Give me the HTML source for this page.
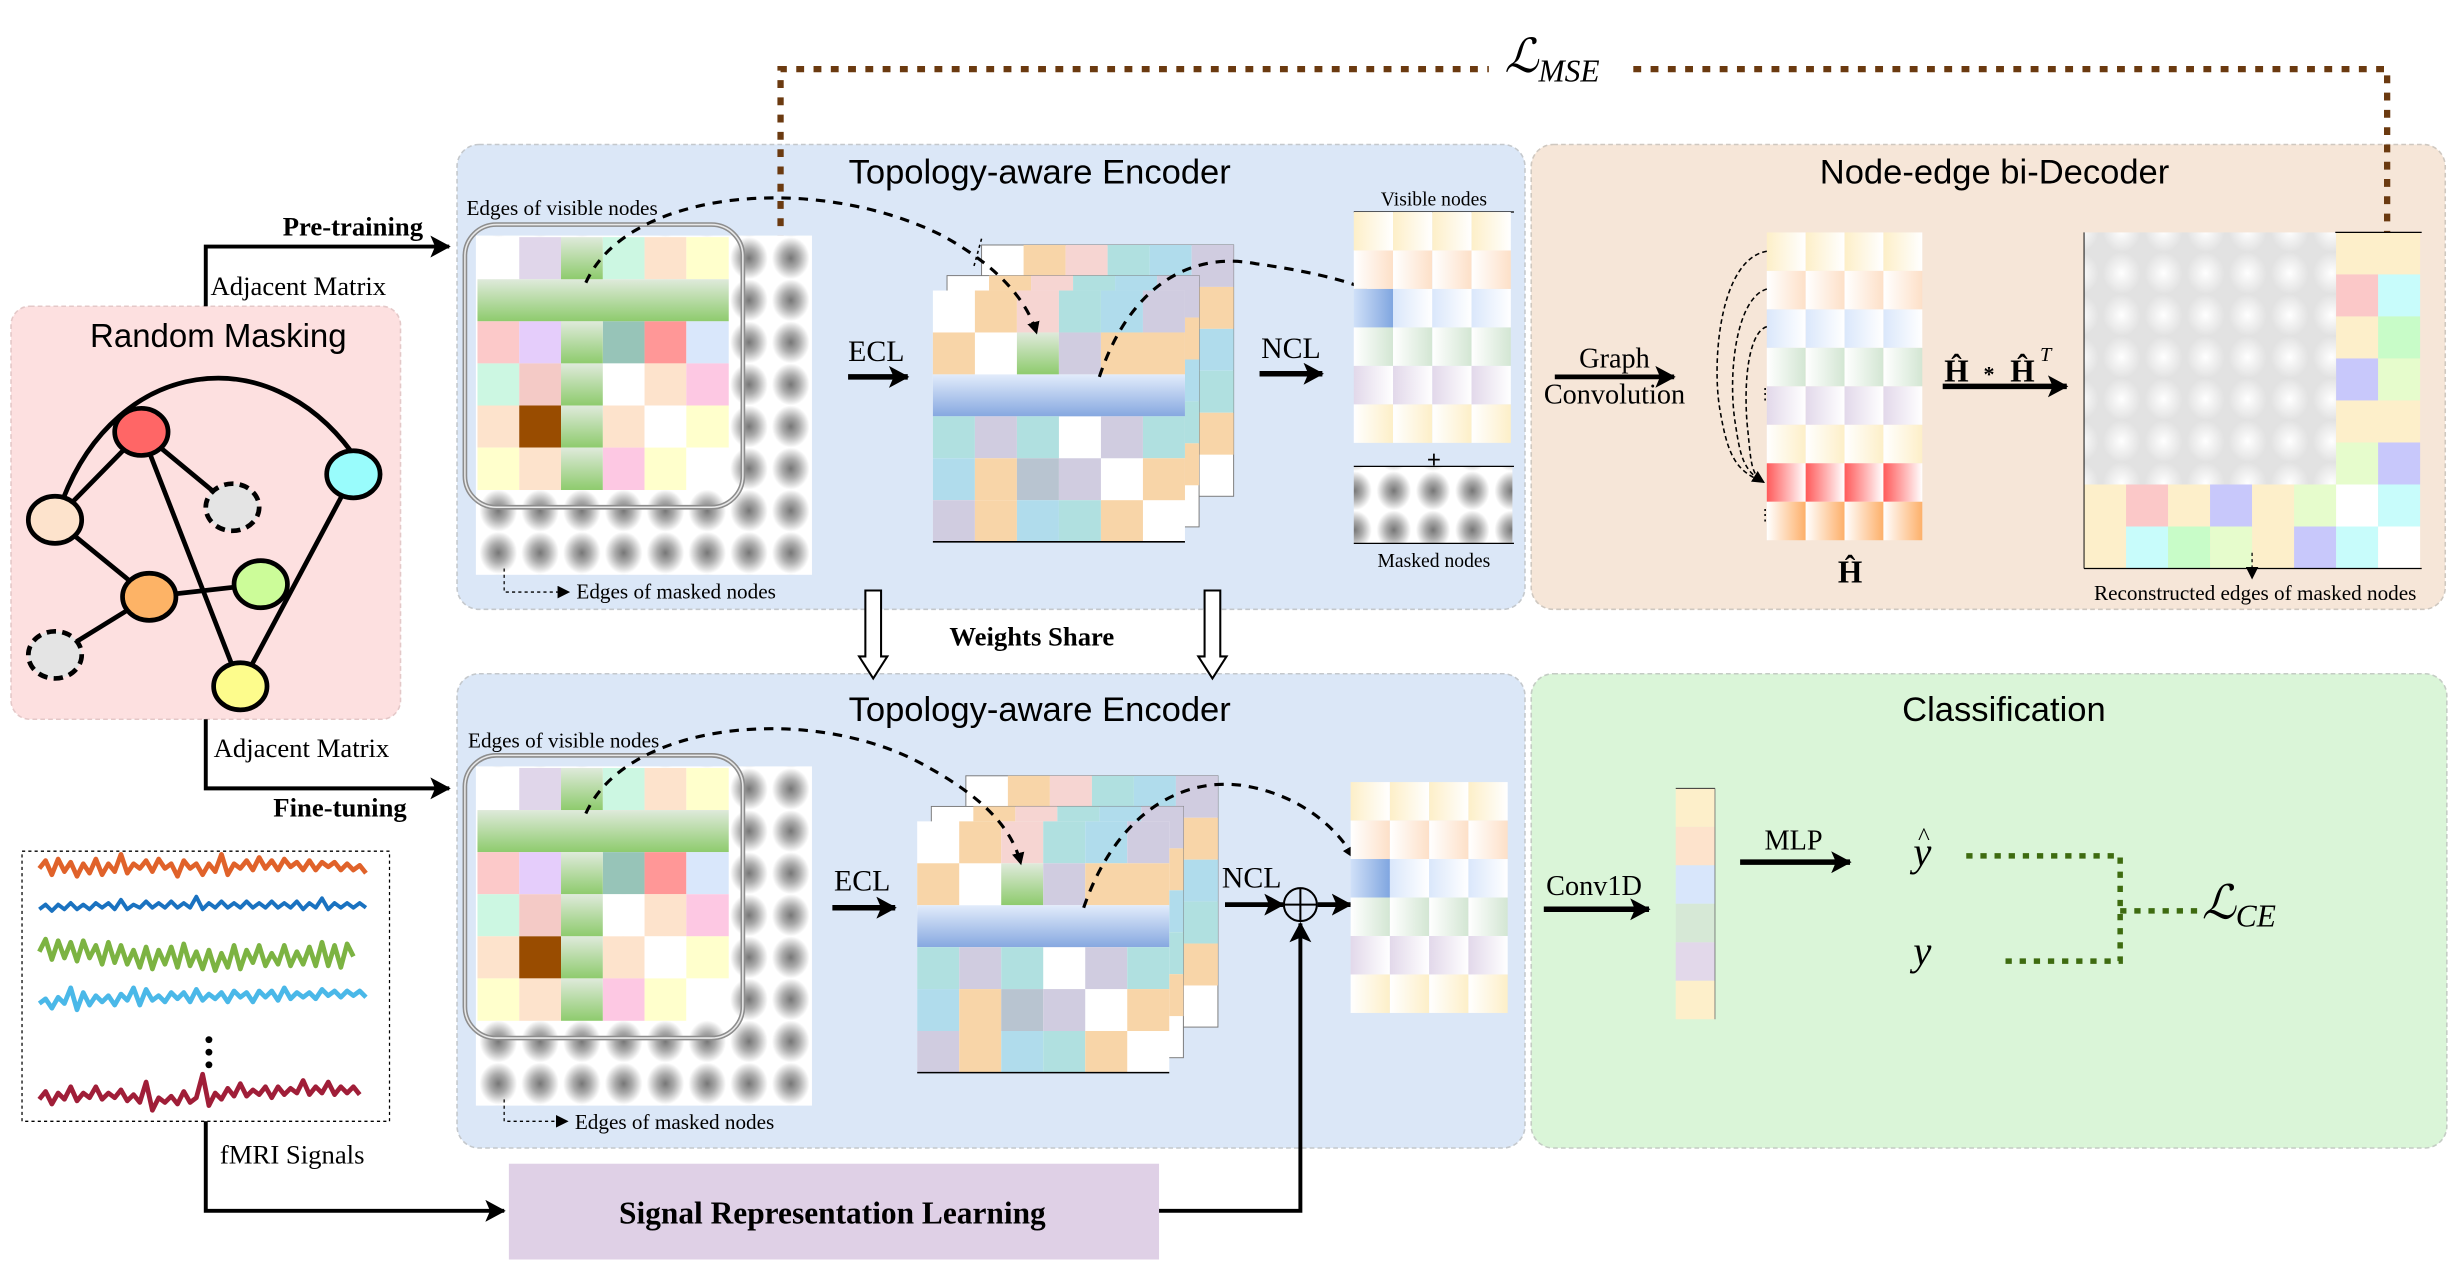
<!DOCTYPE html>
<html><head><meta charset="utf-8"><style>
html,body{margin:0;padding:0;background:#fff;}
svg{display:block;}
.ser{font-family:"Liberation Serif",serif;}
.san{font-family:"Liberation Sans",sans-serif;}
</style></head><body>
<svg width="2450" height="1276" viewBox="0 0 1560 812.5" xmlns="http://www.w3.org/2000/svg">
<defs>
 <radialGradient id="gb" cx="0.5" cy="0.5" r="0.5"><stop offset="0" stop-color="#777"/><stop offset="0.45" stop-color="#aaa"/><stop offset="1" stop-color="#fff"/></radialGradient>
 <radialGradient id="wb" cx="0.5" cy="0.5" r="0.5"><stop offset="0" stop-color="#fff"/><stop offset="0.5" stop-color="#f0f0f0"/><stop offset="1" stop-color="#e2e2e2"/></radialGradient>
 <pattern id="gdots" x="0" y="0" width="26.6" height="26.8" patternUnits="userSpaceOnUse"><rect width="26.6" height="26.8" fill="#fff"/><ellipse cx="13.3" cy="13.4" rx="12" ry="13.4" fill="url(#gb)"/></pattern>
 <pattern id="mdots" x="0" y="0" width="25" height="25" patternUnits="userSpaceOnUse"><rect width="25" height="25" fill="#fff"/><ellipse cx="12.5" cy="12.5" rx="11" ry="12.5" fill="url(#gb)"/></pattern>
 <pattern id="wdots" x="0" y="0" width="26.75" height="26.75" patternUnits="userSpaceOnUse"><rect width="26.75" height="26.75" fill="#e2e2e2"/><ellipse cx="13.4" cy="13.4" rx="12" ry="13.4" fill="url(#wb)"/></pattern>
 <linearGradient id="gg" x1="0" y1="0" x2="0" y2="1"><stop offset="0" stop-color="#dfeadb"/><stop offset="1" stop-color="#8ecb6d"/></linearGradient>
 <linearGradient id="bg" x1="0" y1="0" x2="0" y2="1"><stop offset="0" stop-color="#e2ecfb"/><stop offset="1" stop-color="#86a8e0"/></linearGradient>
 <linearGradient id="cy" x1="0" x2="1"><stop offset="0" stop-color="#fdefc8"/><stop offset="1" stop-color="#fff"/></linearGradient>
 <linearGradient id="cp" x1="0" x2="1"><stop offset="0" stop-color="#fff"/><stop offset="1" stop-color="#fde0c8"/></linearGradient>
 <linearGradient id="cb" x1="0" x2="1"><stop offset="0" stop-color="#dae7fb"/><stop offset="1" stop-color="#fff"/></linearGradient>
 <linearGradient id="cbs" x1="0" x2="1"><stop offset="0" stop-color="#d0e0f8"/><stop offset="1" stop-color="#80a6e0"/></linearGradient>
 <linearGradient id="cg" x1="0" x2="1"><stop offset="0" stop-color="#fff"/><stop offset="1" stop-color="#d3e6d3"/></linearGradient>
 <linearGradient id="cl" x1="0" x2="1"><stop offset="0" stop-color="#e2d8ea"/><stop offset="1" stop-color="#fff"/></linearGradient>
 <linearGradient id="cy2" x1="0" x2="1"><stop offset="0" stop-color="#fff"/><stop offset="1" stop-color="#fdefc8"/></linearGradient>
 <linearGradient id="cr" x1="0" x2="1"><stop offset="0" stop-color="#ff5a5a"/><stop offset="1" stop-color="#fff"/></linearGradient>
 <linearGradient id="co" x1="0" x2="1"><stop offset="0" stop-color="#fff"/><stop offset="1" stop-color="#fdb06a"/></linearGradient>
 <marker id="ah" markerWidth="8" markerHeight="8" refX="7" refY="4" orient="auto" markerUnits="userSpaceOnUse"><path d="M0,0 L8,4 L0,8 Z" fill="#000"/></marker>
 <marker id="ahb" markerWidth="14" markerHeight="14" refX="12" refY="7" orient="auto" markerUnits="userSpaceOnUse"><path d="M0,0 L13,7 L0,14 L3,7 Z" fill="#000"/></marker>

 <g id="lm">
  <rect x="-1" y="-1" width="214" height="216" fill="url(#gdots)"/>
  <g>
   <rect x="0" y="0" width="26.6" height="26.8" fill="#fff"/><rect x="26.6" y="0" width="26.6" height="26.8" fill="#e0d6ea"/><rect x="79.8" y="0" width="26.6" height="26.8" fill="#ccf7e2"/><rect x="106.4" y="0" width="26.6" height="26.8" fill="#fde3cc"/><rect x="133" y="0" width="27" height="26.8" fill="#ffffcc"/>
   <rect x="0" y="26.8" width="160" height="26.8" fill="url(#gg)"/>
   <rect x="0" y="53.6" width="26.6" height="26.8" fill="#fcc9c9"/><rect x="26.6" y="53.6" width="26.6" height="26.8" fill="#e5cdfb"/><rect x="79.8" y="53.6" width="26.6" height="26.8" fill="#97c4b8"/><rect x="106.4" y="53.6" width="26.6" height="26.8" fill="#ff9797"/><rect x="133" y="53.6" width="27" height="26.8" fill="#d9e7fb"/>
   <rect x="0" y="80.4" width="26.6" height="26.8" fill="#ccf7e2"/><rect x="26.6" y="80.4" width="26.6" height="26.8" fill="#f4cac6"/><rect x="79.8" y="80.4" width="26.6" height="26.8" fill="#fff"/><rect x="106.4" y="80.4" width="26.6" height="26.8" fill="#fde3cc"/><rect x="133" y="80.4" width="27" height="26.8" fill="#fdc8e3"/>
   <rect x="0" y="107.2" width="26.6" height="26.8" fill="#fde3cc"/><rect x="26.6" y="107.2" width="26.6" height="26.8" fill="#994c00"/><rect x="79.8" y="107.2" width="26.6" height="26.8" fill="#fde3cc"/><rect x="106.4" y="107.2" width="26.6" height="26.8" fill="#fff"/><rect x="133" y="107.2" width="27" height="26.8" fill="#ffffcc"/>
   <rect x="0" y="134" width="26.6" height="27" fill="#ffffcc"/><rect x="26.6" y="134" width="26.6" height="27" fill="#fde3cc"/><rect x="79.8" y="134" width="26.6" height="27" fill="#fdc8e3"/><rect x="106.4" y="134" width="26.6" height="27" fill="#ffffcc"/><rect x="133" y="134" width="27" height="27" fill="#fff"/>
   <rect x="53.2" y="0" width="26.6" height="26.8" fill="url(#gg)"/><rect x="53.2" y="53.6" width="26.6" height="26.8" fill="url(#gg)"/><rect x="53.2" y="80.4" width="26.6" height="26.8" fill="url(#gg)"/><rect x="53.2" y="107.2" width="26.6" height="26.8" fill="url(#gg)"/><rect x="53.2" y="134" width="26.6" height="27" fill="url(#gg)"/>
  </g>
  <rect x="-8" y="-8" width="177" height="180" rx="20" fill="none" stroke="#8d8d8d" stroke-width="3"/>
  <rect x="-8" y="-8" width="177" height="180" rx="20" fill="none" stroke="#e8e8e8" stroke-width="1"/>
 </g>

 <g id="smbase">
  <rect x="0" y="0" width="160.5" height="160" fill="#fff" stroke="#777" stroke-width="0.6"/>
  <rect x="26.75" y="0" width="26.75" height="26.7" fill="#f8d5a8"/><rect x="53.5" y="0" width="26.75" height="26.7" fill="#f6d5d2"/><rect x="80.25" y="0" width="26.75" height="26.7" fill="#b0e0e0"/><rect x="107" y="0" width="26.75" height="26.7" fill="#b0dcec"/><rect x="133.75" y="0" width="26.75" height="26.7" fill="#d0cce0"/>
  <rect x="133.75" y="26.7" width="26.75" height="26.7" fill="#f8d5a8"/><rect x="133.75" y="53.4" width="26.75" height="26.7" fill="#b0dcec"/><rect x="133.75" y="80.1" width="26.75" height="26.7" fill="#b0e0e0"/><rect x="133.75" y="106.8" width="26.75" height="26.7" fill="#f8d5a8"/>
 </g>
 <g id="sm">
  <use href="#smbase" x="31" y="-29"/>
  <use href="#smbase" x="9" y="-9.5"/>
  <rect x="0" y="0" width="160.5" height="160" fill="#fff"/>
  <rect x="26.75" y="0" width="26.75" height="26.7" fill="#f8d5a8"/><rect x="53.5" y="0" width="26.75" height="26.7" fill="#f6d5d2"/><rect x="80.25" y="0" width="26.75" height="26.7" fill="#b0e0e0"/><rect x="107" y="0" width="26.75" height="26.7" fill="#b0dcec"/><rect x="133.75" y="0" width="26.75" height="26.7" fill="#d0cce0"/>
  <rect x="0" y="26.7" width="26.75" height="26.7" fill="#f8d5a8"/><rect x="53.5" y="26.7" width="26.75" height="26.7" fill="url(#gg)"/><rect x="80.25" y="26.7" width="26.75" height="26.7" fill="#d0cce0"/><rect x="107" y="26.7" width="53.5" height="26.7" fill="#f8d5a8"/>
  <rect x="0" y="53.4" width="160.5" height="26.7" fill="url(#bg)"/>
  <rect x="0" y="80.1" width="26.75" height="26.7" fill="#b0e0e0"/><rect x="26.75" y="80.1" width="26.75" height="26.7" fill="#d0cce0"/><rect x="53.5" y="80.1" width="26.75" height="26.7" fill="#b0e0e0"/><rect x="107" y="80.1" width="26.75" height="26.7" fill="#d0cce0"/><rect x="133.75" y="80.1" width="26.75" height="26.7" fill="#b0e0e0"/>
  <rect x="0" y="106.8" width="26.75" height="26.7" fill="#b0dcec"/><rect x="26.75" y="106.8" width="26.75" height="26.7" fill="#f8d5a8"/><rect x="53.5" y="106.8" width="26.75" height="26.7" fill="#b8c4d0"/><rect x="80.25" y="106.8" width="26.75" height="26.7" fill="#d0cce0"/><rect x="133.75" y="106.8" width="26.75" height="26.7" fill="#f8d5a8"/>
  <rect x="0" y="133.5" width="26.75" height="26.5" fill="#d0cce0"/><rect x="26.75" y="133.5" width="26.75" height="26.5" fill="#f8d5a8"/><rect x="53.5" y="133.5" width="26.75" height="26.5" fill="#b0dcec"/><rect x="80.25" y="133.5" width="26.75" height="26.5" fill="#b0e0e0"/><rect x="107" y="133.5" width="26.75" height="26.5" fill="#f8d5a8"/>
  <line x1="0" y1="160" x2="160.5" y2="160" stroke="#000" stroke-width="1"/>
 </g>

 <g id="vn">
  <g id="vrow"><rect width="25" height="24.5" fill="url(#cy)"/><rect x="25" width="25" height="24.5" fill="url(#cy)"/><rect x="50" width="25" height="24.5" fill="url(#cy)"/><rect x="75" width="25" height="24.5" fill="url(#cy)"/></g>
  <g transform="translate(0,24.5)"><rect width="25" height="24.5" fill="url(#cp)"/><rect x="25" width="25" height="24.5" fill="url(#cp)"/><rect x="50" width="25" height="24.5" fill="url(#cp)"/><rect x="75" width="25" height="24.5" fill="url(#cp)"/></g>
  <g transform="translate(0,49)"><rect width="25" height="24.5" fill="url(#cbs)"/><rect x="25" width="25" height="24.5" fill="url(#cb)"/><rect x="50" width="25" height="24.5" fill="url(#cb)"/><rect x="75" width="25" height="24.5" fill="url(#cb)"/></g>
  <g transform="translate(0,73.5)"><rect width="25" height="24.5" fill="url(#cg)"/><rect x="25" width="25" height="24.5" fill="url(#cg)"/><rect x="50" width="25" height="24.5" fill="url(#cg)"/><rect x="75" width="25" height="24.5" fill="url(#cg)"/></g>
  <g transform="translate(0,98)"><rect width="25" height="24.5" fill="url(#cl)"/><rect x="25" width="25" height="24.5" fill="url(#cl)"/><rect x="50" width="25" height="24.5" fill="url(#cl)"/><rect x="75" width="25" height="24.5" fill="url(#cl)"/></g>
  <g transform="translate(0,122.5)"><rect width="25" height="24.5" fill="url(#cy2)"/><rect x="25" width="25" height="24.5" fill="url(#cy2)"/><rect x="50" width="25" height="24.5" fill="url(#cy2)"/><rect x="75" width="25" height="24.5" fill="url(#cy2)"/></g>
 </g>
</defs>

<rect x="291" y="92" width="680" height="296" rx="14" fill="#dbe7f7" stroke="#c4c8cc" stroke-dasharray="3 2"/>
<rect x="975" y="92" width="582" height="296" rx="14" fill="#f6e6d8" stroke="#cfc8c0" stroke-dasharray="3 2"/>
<rect x="291" y="429" width="680" height="302" rx="14" fill="#dbe7f7" stroke="#c4c8cc" stroke-dasharray="3 2"/>
<rect x="975" y="429" width="583" height="302" rx="14" fill="#daf5d8" stroke="#c4ccc4" stroke-dasharray="3 2"/>
<rect x="7" y="195" width="248" height="263" rx="12" fill="#fde0e0" stroke="#e4c8c8" stroke-dasharray="3 2"/>

<text x="662" y="117" text-anchor="middle" class="san" font-size="22">Topology-aware Encoder</text>
<text x="662" y="459" text-anchor="middle" class="san" font-size="22">Topology-aware Encoder</text>
<text x="1270" y="117" text-anchor="middle" class="san" font-size="22">Node-edge bi-Decoder</text>
<text x="1276" y="459" text-anchor="middle" class="san" font-size="22">Classification</text>
<text x="139" y="221" text-anchor="middle" class="san" font-size="21">Random Masking</text>

<path d="M497,155 V44 H948 M1040,44 H1520 V148" fill="none" stroke="#6b3a10" stroke-width="4" stroke-dasharray="5 6"/>
<text x="958" y="46" class="ser" font-size="30" font-style="italic">ℒ<tspan font-size="20" dy="6">MSE</tspan></text>

<use href="#lm" x="304" y="151"/>
<text x="297" y="137" class="ser" font-size="13.5">Edges of visible nodes</text>
<path d="M321,362 V377 H362" fill="none" stroke="#000" stroke-width="0.8" stroke-dasharray="2 2" marker-end="url(#ah)"/>
<text x="367" y="381" class="ser" font-size="13.5">Edges of masked nodes</text>
<use href="#sm" x="594" y="185"/>
<line x1="625" y1="152" x2="620" y2="170" stroke="#000" stroke-width="1" stroke-dasharray="2 2"/>
<text x="558" y="230" text-anchor="middle" class="ser" font-size="19">ECL</text>
<line x1="540" y1="240" x2="578" y2="240" stroke="#000" stroke-width="3.5" marker-end="url(#ahb)"/>
<text x="822" y="228" text-anchor="middle" class="ser" font-size="19">NCL</text>
<line x1="802" y1="238" x2="842" y2="238" stroke="#000" stroke-width="3.5" marker-end="url(#ahb)"/>
<path d="M373,180 C400,120 520,110 600,150 C640,172 655,195 660,212" fill="none" stroke="#000" stroke-width="2" stroke-dasharray="6 5" marker-end="url(#ah)"/>
<path d="M700,240 C720,180 760,160 800,168 C830,172 855,178 870,184" fill="none" stroke="#000" stroke-width="2" stroke-dasharray="6 5" marker-end="url(#ah)"/>
<text x="913" y="131" text-anchor="middle" class="ser" font-size="12.5">Visible nodes</text>
<line x1="862" y1="135" x2="964" y2="135" stroke="#000" stroke-width="0.8"/>
<use href="#vn" x="862" y="135"/>
<text x="913" y="298" text-anchor="middle" class="ser" font-size="16" font-weight="bold">+</text>
<rect x="862" y="297" width="101" height="49" fill="url(#mdots)"/>
<line x1="862" y1="297" x2="964" y2="297" stroke="#000" stroke-width="0.8"/>
<line x1="862" y1="346" x2="964" y2="346" stroke="#000" stroke-width="0.8"/>
<text x="913" y="361" text-anchor="middle" class="ser" font-size="12.5">Masked nodes</text>

<g fill="#fff" stroke="#000" stroke-width="1.3">
 <path d="M551,376 H561 V418 H565 L556,432 L547,418 H551 Z"/>
 <path d="M767,376 H777 V418 H781 L772,432 L763,418 H767 Z"/>
</g>
<text x="657" y="411" text-anchor="middle" class="ser" font-size="17" font-weight="bold">Weights Share</text>

<use href="#lm" x="304" y="489"/>
<text x="298" y="476" class="ser" font-size="13.5">Edges of visible nodes</text>
<path d="M321,700 V714 H361" fill="none" stroke="#000" stroke-width="0.8" stroke-dasharray="2 2" marker-end="url(#ah)"/>
<text x="366" y="719" class="ser" font-size="13.5">Edges of masked nodes</text>
<use href="#sm" x="584" y="523"/>
<text x="549" y="567" text-anchor="middle" class="ser" font-size="19">ECL</text>
<line x1="530" y1="578" x2="570" y2="578" stroke="#000" stroke-width="3.5" marker-end="url(#ahb)"/>
<text x="797" y="565" text-anchor="middle" class="ser" font-size="19">NCL</text>
<line x1="780" y1="576" x2="817" y2="576" stroke="#000" stroke-width="3" marker-end="url(#ahb)"/>
<circle cx="828" cy="576" r="10.5" fill="none" stroke="#000" stroke-width="1.3"/>
<line x1="817.5" y1="576" x2="838.5" y2="576" stroke="#000" stroke-width="1.3"/>
<line x1="828" y1="565.5" x2="828" y2="586.5" stroke="#000" stroke-width="1.3"/>
<line x1="839" y1="576" x2="860" y2="576" stroke="#000" stroke-width="3" marker-end="url(#ahb)"/>
<path d="M373,518 C400,458 520,448 590,488 C630,510 645,530 650,550" fill="none" stroke="#000" stroke-width="2" stroke-dasharray="6 5" marker-end="url(#ah)"/>
<path d="M690,578 C710,520 750,495 790,500 C825,505 850,525 862,546" fill="none" stroke="#000" stroke-width="2" stroke-dasharray="6 5" marker-end="url(#ah)"/>
<use href="#vn" x="860" y="498"/>

<text x="1028" y="234" text-anchor="middle" class="ser" font-size="18">Graph</text>
<line x1="990" y1="240" x2="1066" y2="240" stroke="#000" stroke-width="3" marker-end="url(#ahb)"/>
<text x="1028" y="257" text-anchor="middle" class="ser" font-size="18">Convolution</text>
<g transform="translate(1125,148)">
 <use href="#vrow" transform="scale(0.99,1)"/>
 <g transform="translate(0,24.5)"><rect width="24.75" height="24.5" fill="url(#cp)"/><rect x="24.75" width="24.75" height="24.5" fill="url(#cp)"/><rect x="49.5" width="24.75" height="24.5" fill="url(#cp)"/><rect x="74.25" width="24.75" height="24.5" fill="url(#cp)"/></g>
 <g transform="translate(0,49)"><rect width="24.75" height="24.5" fill="url(#cb)"/><rect x="24.75" width="24.75" height="24.5" fill="url(#cb)"/><rect x="49.5" width="24.75" height="24.5" fill="url(#cb)"/><rect x="74.25" width="24.75" height="24.5" fill="url(#cb)"/></g>
 <g transform="translate(0,73.5)"><rect width="24.75" height="24.5" fill="url(#cg)"/><rect x="24.75" width="24.75" height="24.5" fill="url(#cg)"/><rect x="49.5" width="24.75" height="24.5" fill="url(#cg)"/><rect x="74.25" width="24.75" height="24.5" fill="url(#cg)"/></g>
 <g transform="translate(0,98)"><rect width="24.75" height="24.5" fill="url(#cl)"/><rect x="24.75" width="24.75" height="24.5" fill="url(#cl)"/><rect x="49.5" width="24.75" height="24.5" fill="url(#cl)"/><rect x="74.25" width="24.75" height="24.5" fill="url(#cl)"/></g>
 <g transform="translate(0,122.5)"><rect width="24.75" height="24.5" fill="url(#cy2)"/><rect x="24.75" width="24.75" height="24.5" fill="url(#cy2)"/><rect x="49.5" width="24.75" height="24.5" fill="url(#cy2)"/><rect x="74.25" width="24.75" height="24.5" fill="url(#cy2)"/></g>
 <g transform="translate(0,147)"><rect width="24.75" height="24.5" fill="url(#cr)"/><rect x="24.75" width="24.75" height="24.5" fill="url(#cr)"/><rect x="49.5" width="24.75" height="24.5" fill="url(#cr)"/><rect x="74.25" width="24.75" height="24.5" fill="url(#cr)"/></g>
 <g transform="translate(0,171.5)"><rect width="24.75" height="24.5" fill="url(#co)"/><rect x="24.75" width="24.75" height="24.5" fill="url(#co)"/><rect x="49.5" width="24.75" height="24.5" fill="url(#co)"/><rect x="74.25" width="24.75" height="24.5" fill="url(#co)"/></g>
</g>
<g fill="none" stroke="#000" stroke-width="1" stroke-dasharray="3 2">
 <path d="M1125,160 C1095,165 1090,230 1095,260 C1100,290 1105,300 1123,307"/>
 <path d="M1125,184 C1105,190 1100,240 1105,270 C1108,290 1110,300 1123,307"/>
 <path d="M1125,208 C1112,212 1110,250 1113,275 C1115,295 1115,302 1123,307" marker-end="url(#ah)"/>
</g>
<text x="1119" y="254" class="ser" font-size="10">⋮</text>
<text x="1119" y="331" class="ser" font-size="10">⋮</text>
<text x="1178" y="371" text-anchor="middle" class="ser" font-size="20" font-weight="bold">Ĥ</text>
<text x="1238" y="243" class="ser" font-size="20" font-weight="bold">Ĥ</text>
<text x="1263" y="243" class="ser" font-size="14" font-weight="bold">*</text>
<text x="1280" y="243" class="ser" font-size="20" font-weight="bold">Ĥ</text>
<text x="1299" y="230" class="ser" font-size="13" font-style="italic">T</text>
<line x1="1237" y1="246" x2="1316" y2="246" stroke="#000" stroke-width="3.5" marker-end="url(#ahb)"/>
<rect x="1327" y="148" width="160.5" height="160.5" fill="url(#wdots)"/>
<g transform="translate(1487.5,148)">
 <rect x="0" y="0" width="53.5" height="26.75" fill="#fdefca"/>
 <rect x="0" y="26.75" width="26.75" height="26.75" fill="#fbc8c8"/><rect x="26.75" y="26.75" width="26.75" height="26.75" fill="#c8fcfb"/>
 <rect x="0" y="53.5" width="26.75" height="26.75" fill="#fdefca"/><rect x="26.75" y="53.5" width="26.75" height="26.75" fill="#c8fcc8"/>
 <rect x="0" y="80.25" width="26.75" height="26.75" fill="#c8c8fb"/><rect x="26.75" y="80.25" width="26.75" height="26.75" fill="#e6fccc"/>
 <rect x="0" y="107" width="53.5" height="26.75" fill="#fdefca"/>
 <rect x="0" y="133.75" width="26.75" height="26.75" fill="#e6fccc"/><rect x="26.75" y="133.75" width="26.75" height="26.75" fill="#c8c8fb"/>
</g>
<g transform="translate(1327,308.5)">
 <rect x="0" y="0" width="26.75" height="53.5" fill="#fdefca"/><rect x="26.75" y="0" width="26.75" height="26.75" fill="#fbc8c8"/><rect x="53.5" y="0" width="26.75" height="26.75" fill="#fdefca"/><rect x="80.25" y="0" width="26.75" height="26.75" fill="#c8c8fb"/><rect x="107" y="0" width="26.75" height="53.5" fill="#fdefca"/><rect x="133.75" y="0" width="26.75" height="26.75" fill="#e6fccc"/><rect x="160.5" y="0" width="26.75" height="26.75" fill="#fff"/><rect x="187.25" y="0" width="26.75" height="26.75" fill="#c8fcfb"/>
 <rect x="26.75" y="26.75" width="26.75" height="26.75" fill="#c8fcfb"/><rect x="53.5" y="26.75" width="26.75" height="26.75" fill="#c8fcc8"/><rect x="80.25" y="26.75" width="26.75" height="26.75" fill="#e6fccc"/><rect x="133.75" y="26.75" width="26.75" height="26.75" fill="#c8c8fb"/><rect x="160.5" y="26.75" width="26.75" height="26.75" fill="#c8fcfb"/><rect x="187.25" y="26.75" width="26.75" height="26.75" fill="#fff"/>
</g>
<line x1="1487" y1="148" x2="1542" y2="148" stroke="#000" stroke-width="0.8"/>
<line x1="1327" y1="148" x2="1327" y2="362" stroke="#000" stroke-width="0.6"/>
<line x1="1327" y1="362" x2="1542" y2="362" stroke="#000" stroke-width="0.8"/>
<line x1="1434" y1="352" x2="1434" y2="368" stroke="#000" stroke-width="0.8" stroke-dasharray="2 2" marker-end="url(#ah)"/>
<text x="1436" y="382" text-anchor="middle" class="ser" font-size="13.5">Reconstructed edges of masked nodes</text>

<text x="1015" y="570" text-anchor="middle" class="ser" font-size="18">Conv1D</text>
<line x1="983" y1="579" x2="1050" y2="579" stroke="#000" stroke-width="3.5" marker-end="url(#ahb)"/>
<g transform="translate(1067,502)">
 <rect width="25" height="24.5" fill="#fdefca"/><rect y="24.5" width="25" height="24.5" fill="#fde3cc"/><rect y="49" width="25" height="24.5" fill="#d8e6fb"/><rect y="73.5" width="25" height="24.5" fill="#d6e8d6"/><rect y="98" width="25" height="24.5" fill="#e2d8ea"/><rect y="122.5" width="25" height="24.5" fill="#fdefca"/>
 <line x1="0" y1="0" x2="25" y2="0" stroke="#333" stroke-width="0.6"/><line x1="25" y1="0" x2="25" y2="147" stroke="#666" stroke-width="0.5"/>
</g>
<text x="1142" y="541" text-anchor="middle" class="ser" font-size="18">MLP</text>
<line x1="1108" y1="549" x2="1178" y2="549" stroke="#000" stroke-width="3.5" marker-end="url(#ahb)"/>
<text x="1224" y="551" text-anchor="middle" class="ser" font-size="26" font-style="italic">y</text>
<text x="1225" y="538" text-anchor="middle" class="ser" font-size="16">^</text>
<text x="1224" y="614" text-anchor="middle" class="ser" font-size="26" font-style="italic">y</text>
<path d="M1252,545 H1350 V612 H1275 M1350,580 H1402" fill="none" stroke="#3e6b10" stroke-width="3.5" stroke-dasharray="4 5"/>
<text x="1402" y="585" class="ser" font-size="30" font-style="italic">ℒ<tspan font-size="20" dy="5">CE</tspan></text>

<g stroke="#000" stroke-width="3" fill="none">
 <path d="M40,318 C75,228 170,215 224,288"/>
 <line x1="35" y1="331" x2="90" y2="275"/>
 <line x1="90" y1="275" x2="148" y2="323"/>
 <line x1="35" y1="331" x2="95" y2="380"/>
 <line x1="95" y1="380" x2="166" y2="372"/>
 <line x1="95" y1="380" x2="35" y2="417"/>
 <line x1="90" y1="275" x2="153" y2="437"/>
 <line x1="153" y1="437" x2="225" y2="302"/>
</g>
<g stroke="#000" stroke-width="3">
 <ellipse cx="35" cy="331" rx="17" ry="15" fill="#fde3cc"/>
 <ellipse cx="90" cy="275" rx="17" ry="15" fill="#ff6666"/>
 <ellipse cx="148" cy="323" rx="17" ry="15" fill="#e4e4e4" stroke-dasharray="6 4"/>
 <ellipse cx="95" cy="380" rx="17" ry="15" fill="#fdb366"/>
 <ellipse cx="166" cy="372" rx="17" ry="15" fill="#ccfc99"/>
 <ellipse cx="225" cy="302" rx="17" ry="15" fill="#99fcfc"/>
 <ellipse cx="35" cy="417" rx="17" ry="15" fill="#e4e4e4" stroke-dasharray="6 4"/>
 <ellipse cx="153" cy="437" rx="17" ry="15" fill="#fdfc8c"/>
</g>

<path d="M131,195 V157 H286" fill="none" stroke="#000" stroke-width="2.5" marker-end="url(#ahb)"/>
<text x="180" y="150" class="ser" font-size="17" font-weight="bold">Pre-training</text>
<text x="134" y="188" class="ser" font-size="17">Adjacent Matrix</text>
<path d="M131,458 V502 H286" fill="none" stroke="#000" stroke-width="2.5" marker-end="url(#ahb)"/>
<text x="136" y="482" class="ser" font-size="17">Adjacent Matrix</text>
<text x="174" y="520" class="ser" font-size="17" font-weight="bold">Fine-tuning</text>

<rect x="14" y="542" width="234" height="172" fill="#fff" stroke="#000" stroke-width="0.8" stroke-dasharray="2 2"/>
<g fill="none" stroke-width="3" stroke-linejoin="round">
 <path stroke="#e0622a" d="M25,553 l4,-5 4,9 4,-10 4,8 4,-6 4,9 4,-8 4,6 4,-9 4,10 4,-7 4,5 4,-11 4,12 4,-6 4,3 4,-5 4,7 4,-8 4,6 4,-3 4,8 4,-10 4,5 4,-3 4,7 4,-7 4,5 4,-11 4,13 4,-7 4,3 4,-5 4,6 4,-8 4,7 4,-5 4,6 4,-7 4,5 4,-3 4,5 4,-6 4,6 4,-5 4,3 4,-3 4,5 4,-4 4,4 4,-3 4,5"/>
 <path stroke="#1a72c0" stroke-width="2.5" d="M25,579 l4,-3 4,4 4,-4 4,3 4,-4 4,4 4,-3 4,3 4,-4 4,3 4,-3 4,4 4,-6 4,6 4,-3 4,2 4,-4 4,4 4,-3 4,3 4,-4 4,4 4,-3 4,3 4,-7 4,8 4,-4 4,3 4,-4 4,4 4,-3 4,3 4,-4 4,4 4,-3 4,3 4,-4 4,4 4,-3 4,3 4,-4 4,5 4,-4 4,3 4,-6 4,7 4,-4 4,3 4,-3 4,3 4,-3 4,3"/>
 <path stroke="#7cb342" d="M25,606 l4,-8 4,13 4,-12 4,11 4,-10 4,12 4,-13 4,11 4,-8 4,12 4,-14 4,13 4,-11 4,12 4,-9 4,11 4,-13 4,14 4,-12 4,9 4,-11 4,13 4,-15 4,14 4,-9 4,11 4,-12 4,13 4,-11 4,9 4,-14 4,15 4,-12 4,8 4,-11 4,13 4,-8 4,7 4,-12 4,13 4,-9 4,8 4,-11 4,12 4,-15 4,15 4,-13 4,14 4,-15 4,8"/>
 <path stroke="#4ab8e8" d="M25,639 l4,-3 4,6 4,-7 4,4 4,-10 4,14 4,-11 4,8 4,-6 4,4 4,-4 4,6 4,-7 4,4 4,-8 4,11 4,-10 4,7 4,-3 4,4 4,-6 4,4 4,-4 4,6 4,-8 4,7 4,-4 4,3 4,-4 4,6 4,-7 4,4 4,-3 4,6 4,-7 4,4 4,-4 4,6 4,-8 4,7 4,-4 4,3 4,-3 4,4 4,-6 4,4 4,-3 4,4 4,-4 4,3 4,-3 4,4"/>
 <path stroke="#a01e38" d="M25,700 l4,-5 4,8 4,-7 4,4 4,-8 4,9 4,-5 4,3 4,-7 4,8 4,-4 4,3 4,-5 4,7 4,-4 4,5 4,-13 4,18 4,-8 4,3 4,-4 4,5 4,-8 4,7 4,-3 4,-15 4,20 4,-8 4,4 4,-7 4,5 4,-8 4,8 4,-4 4,3 4,-5 4,7 4,-7 4,5 4,-4 4,3 4,-8 4,9 4,-5 4,4 4,-7 4,8 4,-5 4,4 4,-4 4,5"/>
</g>
<circle cx="133" cy="662" r="2.2"/><circle cx="133" cy="670" r="2.2"/><circle cx="133" cy="678" r="2.2"/>
<text x="140" y="741" class="ser" font-size="17">fMRI Signals</text>
<path d="M131,714 V771 H321" fill="none" stroke="#000" stroke-width="2.5" marker-end="url(#ahb)"/>
<rect x="324" y="741" width="414" height="61" fill="#dfd0e6"/>
<text x="530" y="779" text-anchor="middle" class="ser" font-size="20" font-weight="bold">Signal Representation Learning</text>
<path d="M738,771 H828 V588" fill="none" stroke="#000" stroke-width="2.5" marker-end="url(#ahb)"/>
</svg>
</body></html>
